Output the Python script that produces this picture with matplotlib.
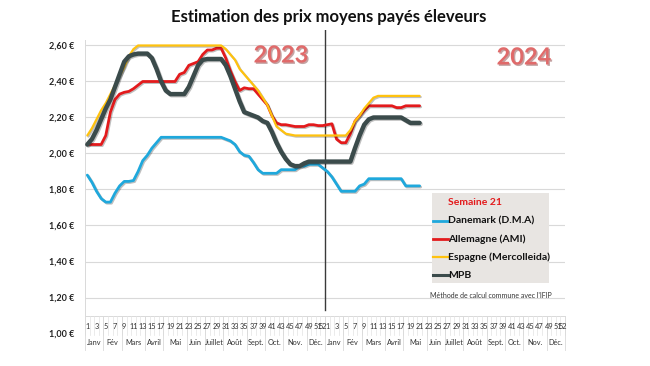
import matplotlib
matplotlib.use("Agg")
import matplotlib.pyplot as plt
import matplotlib.patheffects as pe
from matplotlib.patches import Rectangle
from matplotlib.lines import Line2D

plt.rcParams['font.family'] = ['Lato', 'DejaVu Sans']

# ---------------- data ----------------
title = "Estimation des prix moyens payés éleveurs"
years = ["2023", "2024"]
months = ["Janv", "Fév", "Mars", "Avril", "Mai", "Juin", "Juillet", "Août",
          "Sept.", "Oct.", "Nov.", "Déc."]
month_weeks = [4, 4, 5, 4, 5, 4, 4, 5, 4, 4, 5, 4]
weeks_per_year = 52

danemark = [1.88, 1.84, 1.79, 1.75, 1.73, 1.73, 1.78, 1.82, 1.845, 1.845,
            1.85, 1.90, 1.96, 1.99, 2.03, 2.06, 2.09, 2.09, 2.09, 2.09,
            2.09, 2.09, 2.09, 2.09, 2.09, 2.09, 2.09, 2.09, 2.09, 2.09,
            2.08, 2.07, 2.05, 2.01, 1.99, 1.985, 1.95, 1.91, 1.89, 1.89,
            1.89, 1.89, 1.91, 1.91, 1.91, 1.91, 1.93, 1.93, 1.94, 1.94,
            1.94, 1.92,
            1.90, 1.87, 1.83, 1.79, 1.79, 1.79, 1.79, 1.82, 1.83, 1.86,
            1.86, 1.86, 1.86, 1.86, 1.86, 1.86, 1.86, 1.82, 1.82, 1.82, 1.82]
allemagne = [2.05, 2.05, 2.05, 2.05, 2.10, 2.23, 2.30, 2.33, 2.34, 2.345,
             2.36, 2.38, 2.40, 2.40, 2.40, 2.40, 2.40, 2.40, 2.40, 2.40,
             2.44, 2.45, 2.49, 2.50, 2.51, 2.55, 2.575, 2.575, 2.585, 2.585,
             2.53, 2.46, 2.40, 2.35, 2.365, 2.36, 2.36, 2.33, 2.30, 2.27,
             2.21, 2.17, 2.16, 2.16, 2.155, 2.15, 2.15, 2.15, 2.16, 2.16,
             2.155, 2.155,
             2.16, 2.165, 2.08, 2.06, 2.06, 2.11, 2.18, 2.21, 2.24, 2.265,
             2.265, 2.265, 2.265, 2.265, 2.265, 2.255, 2.255, 2.265, 2.265,
             2.265, 2.265]
espagne = [2.10, 2.14, 2.19, 2.24, 2.28, 2.33, 2.38, 2.43, 2.48, 2.54,
           2.58, 2.60, 2.60, 2.60, 2.60, 2.60, 2.60, 2.60, 2.60, 2.60,
           2.60, 2.60, 2.60, 2.60, 2.60, 2.60, 2.60, 2.60, 2.60, 2.60,
           2.58, 2.55, 2.52, 2.47, 2.44, 2.41, 2.38, 2.35, 2.31, 2.27,
           2.21, 2.15, 2.13, 2.11, 2.105, 2.10, 2.10, 2.10, 2.10, 2.10,
           2.10, 2.10,
           2.10, 2.10, 2.10, 2.10, 2.10, 2.13, 2.18, 2.21, 2.25, 2.28,
           2.31, 2.32, 2.32, 2.32, 2.32, 2.32, 2.32, 2.32, 2.32, 2.32, 2.32]
mpb = [2.05, 2.08, 2.13, 2.19, 2.25, 2.30, 2.37, 2.44, 2.51, 2.54,
       2.55, 2.555, 2.555, 2.555, 2.53, 2.47, 2.40, 2.35, 2.33, 2.33,
       2.33, 2.33, 2.37, 2.43, 2.49, 2.52, 2.525, 2.525, 2.525, 2.525,
       2.49, 2.43, 2.36, 2.29, 2.23, 2.22, 2.21, 2.20, 2.18, 2.17,
       2.12, 2.06, 2.01, 1.97, 1.94, 1.93, 1.93, 1.945, 1.955, 1.955,
       1.955, 1.955,
       1.955, 1.955, 1.955, 1.955, 1.955, 1.955, 2.03, 2.10, 2.16, 2.19,
       2.20, 2.20, 2.20, 2.20, 2.20, 2.20, 2.20, 2.185, 2.17, 2.17, 2.17]

series_names = ["Danemark (D.M.A)", "Allemagne (AMI)", "Espagne (Mercolleida)", "MPB"]
series_values = [danemark, allemagne, espagne, mpb]
series_colors = ["#1FA8DC", "#E31A1C", "#FFC20E", "#3B4B4B"]
series_widths = [2.0, 2.0, 1.6, 3.2]
legend_title = "Semaine 21"
note = "Méthode de calcul commune avec l'IFIP"
yticks = [1.0, 1.2, 1.4, 1.6, 1.8, 2.0, 2.2, 2.4, 2.6]

# ---------------- figure ----------------
W, H = 650, 366
fig = plt.figure(figsize=(W / 100, H / 100), dpi=100)
fig.patch.set_facecolor("white")

def fx(px):
    return px / W

def fy(py):
    return 1 - py / H

ax_left, ax_right, ax_top, ax_bottom = 85, 565, 30, 352
ax = fig.add_axes([fx(ax_left), fy(ax_bottom), fx(ax_right - ax_left),
                   (ax_bottom - ax_top) / H])
n_total = 2 * weeks_per_year
ax.set_xlim(-0.5, n_total - 0.5)

def v_of(py):
    return 1 + (333.5 - py) / 180.0

ax.set_ylim(v_of(ax_bottom), v_of(ax_top))
for s in ax.spines.values():
    s.set_visible(False)
ax.set_xticks([])
ax.set_yticks(yticks)
ax.set_yticklabels([f"{t:.2f} €".replace(".", ",") for t in yticks],
                   fontsize=6.5, fontweight="bold", color="#222222")
ax.tick_params(axis="y", length=0, pad=8)

# grid
for t in yticks[1:]:
    ax.axhline(t, color="#D9D9D9", lw=0.8, zorder=0)

# category table
tab_top = v_of(316)
tab_mid = v_of(335)
tab_bot = v_of(350)
ax.plot([-0.5, n_total - 0.5], [tab_top, tab_top], color="#D9D9D9", lw=0.7, clip_on=False)
ax.plot([-0.5, -0.5], [tab_top, v_of(40)], color="#D9D9D9", lw=0.7, clip_on=False)
for i in range(n_total + 1):
    ax.plot([i - 0.5, i - 0.5], [tab_top, tab_mid], color="#E3E3E3", lw=0.5, clip_on=False)
for y in range(2):
    base = y * weeks_per_year
    for w in range(1, weeks_per_year + 1):
        if w % 2 == 1 or w == weeks_per_year:
            ax.text(base + w - 1, v_of(327), str(w), ha="center", va="center",
                    fontsize=5.3, color="#333333")
    start = base
    for m, nw in zip(months, month_weeks):
        ax.plot([start - 0.5, start - 0.5], [tab_top, tab_bot], color="#D9D9D9",
                lw=0.6, clip_on=False)
        ax.text(start + (nw - 1) / 2, v_of(342.5), m, ha="center", va="center",
                fontsize=5.3, color="#333333")
        start += nw
ax.plot([n_total - 0.5, n_total - 0.5], [tab_top, tab_bot], color="#D9D9D9", lw=0.6, clip_on=False)

# year separator
ax.plot([weeks_per_year - 0.5] * 2, [v_of(310), v_of(30)], color="#3A3A3A", lw=1.0, zorder=3)

# series
for name, vals, col, lw in zip(series_names, series_values, series_colors, series_widths):
    ax.plot(range(len(vals)), vals, color=col, lw=lw, solid_capstyle="round",
            solid_joinstyle="round", zorder=4,
            path_effects=[pe.SimpleLineShadow(offset=(0.8, -0.8), alpha=0.25),
                          pe.Normal()])

# year labels
year_fx = [pe.withSimplePatchShadow(offset=(1, -1), shadow_rgbFace="#8A4A4A", alpha=0.5)]
fig.text(fx(281), fy(55), years[0], ha="center", va="center", fontsize=17,
         fontweight="bold", color="#E06A6A", path_effects=year_fx)
fig.text(fx(524), fy(57), years[1], ha="center", va="center", fontsize=17,
         fontweight="bold", color="#E06A6A", path_effects=year_fx)

# title
fig.text(fx(329), fy(17), title, ha="center", va="center", fontsize=12,
         fontweight="bold", color="#111111")

# legend box
lx0, ly0, lx1, ly1 = 432, 193, 549, 283
fig.patches.append(Rectangle((fx(lx0), fy(ly1)), fx(lx1 - lx0), (ly1 - ly0) / H,
                             transform=fig.transFigure, facecolor="#E8E5E2",
                             edgecolor="none", zorder=5))
fig.text(fx(448), fy(203), legend_title, ha="left", va="center", fontsize=7.5,
         fontweight="bold", color="#E31A1C", zorder=6)
for k, (name, col, lw) in enumerate(zip(series_names, series_colors, series_widths)):
    yy = 221 + 18 * k
    fig.lines.append(Line2D([fx(433), fx(448)], [fy(yy), fy(yy)], transform=fig.transFigure,
                            color=col, lw=min(lw, 2.2), zorder=6))
    fig.text(fx(448), fy(yy), name, ha="left", va="center", fontsize=7.5,
             fontweight="bold", color="#111111", zorder=6)

fig.text(fx(491), fy(296), note, ha="center", va="center", fontsize=5, color="#333333")

fig.savefig("out.png", dpi=100)
